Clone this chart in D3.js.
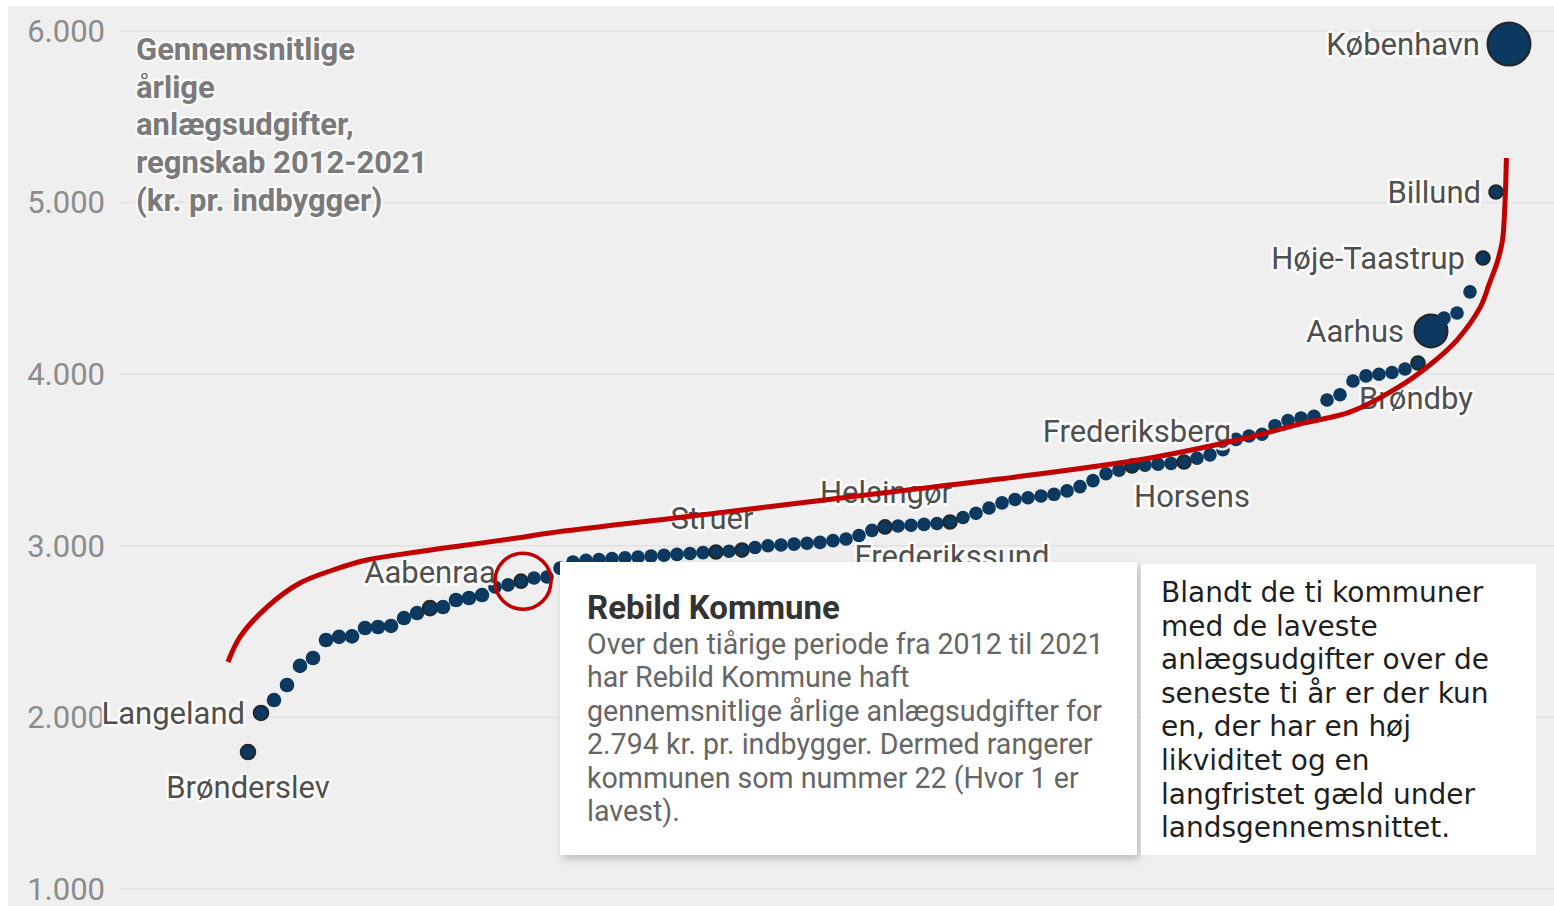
<!DOCTYPE html>
<html>
<head>
<meta charset="utf-8">
<script src="https://cdn.jsdelivr.net/npm/d3@7"></script>
<style>
  body { margin: 0; background: #ffffff; }
  #chart { width: 1554px; height: 906px; }
</style>
</head>
<body>
<div id="chart"></div>
<script>
///////////////
// data      //
///////////////

// gennemsnitlige årlige anlægsudgifter 2012-2021, kr. pr. indbygger, sorteret (rang 1 = lavest)
const udgifter = [
  1798, 2026, 2101, 2189, 2300, 2346, 2451, 2469, 2472, 2521,
  2527, 2533, 2579, 2608, 2637, 2643, 2684, 2696, 2713, 2760,
  2772, 2794, 2812, 2818, 2870, 2905, 2915, 2920, 2925, 2930,
  2935, 2940, 2945, 2950, 2955, 2960, 2964, 2968, 2975, 2990,
  3000, 3005, 3010, 3015, 3020, 3030, 3040, 3060, 3090, 3110,
  3115, 3120, 3125, 3130, 3139, 3165, 3190, 3220, 3250, 3270,
  3280, 3290, 3300, 3320, 3345, 3380, 3420, 3440, 3465, 3470,
  3475, 3480, 3488, 3510, 3530, 3560, 3620, 3640, 3650, 3700,
  3730, 3745, 3755, 3850, 3880, 3960, 3990, 4000, 4010, 4030,
  4065, 4252, 4327, 4357, 4480, 4677, 5062, 5924
];

// navngivne kommuner og deres rang
const labelNames = ["Brønderslev", "Langeland", "Aabenraa", "Struer", "Helsingør", "Frederikssund",
                    "Frederiksberg", "Horsens", "Brøndby", "Aarhus", "Høje-Taastrup", "Billund", "København"];
const labelRanks = [1, 2, 15, 37, 50, 55, 69, 73, 91, 92, 96, 97, 98];
const ringRanks = [1, 2, 15, 22, 37, 39, 50, 55, 69, 73, 91, 92, 96, 97, 98];

const yTicks = [1000, 2000, 3000, 4000, 5000, 6000];

const titleLines = ["Gennemsnitlige", "årlige", "anlægsudgifter,", "regnskab 2012-2021", "(kr. pr. indbygger)"];

const tooltipTitle = "Rebild Kommune";
const tooltipLines = [
  "Over den tiårige periode fra 2012 til 2021",
  "har Rebild Kommune haft",
  "gennemsnitlige årlige anlægsudgifter for",
  "2.794 kr. pr. indbygger. Dermed rangerer",
  "kommunen som nummer 22 (Hvor 1 er",
  "lavest)."
];
const tooltipRank = 22;

const noteLines = [
  "Blandt de ti kommuner",
  "med de laveste",
  "anlægsudgifter over de",
  "seneste ti år er der kun",
  "en, der har en høj",
  "likviditet og en",
  "langfristet gæld under",
  "landsgennemsnittet."
];

// håndtegnet rød streg, i (rang, kr.)
const kurvePunkter = [
  [-0.54, 2323], [0.39, 2469], [2.46, 2643], [5.0, 2783], [7.54, 2859], [10.15, 2917],
  [14.0, 2964], [17.85, 3005], [21.7, 3045], [24.2, 3075], [37.1, 3191], [49.8, 3308],
  [58.8, 3389], [70.4, 3512], [78.1, 3634], [81.9, 3710], [85.8, 3780], [89.4, 3920],
  [91.9, 4054], [94.0, 4199], [95.8, 4392], [96.5, 4531], [97.1, 4654], [97.5, 4782],
  [97.7, 5015], [97.8, 5260]
];

///////////////
// constants //
///////////////

const chartWidth = 1554;
const chartHeight = 906;

const dotColor = "#07375f";
const redColor = "#c10000";

// label placement (anchor, dx, dy) per name
const labelPlacement = {
  "Brønderslev":   ["middle", 0, 35],
  "Langeland":     ["end", -16, 0],
  "Aabenraa":      ["middle", 0, -36],
  "Struer":        ["middle", -4, -34],
  "Helsingør":     ["middle", 1, -35],
  "Frederikssund": ["middle", 2, 34],
  "Frederiksberg": ["middle", 5, -35],
  "Horsens":       ["middle", 8, 34],
  "Brøndby":       ["middle", -2, 35],
  "Aarhus":        ["end", -27, 0],
  "Høje-Taastrup": ["end", -18, 0],
  "Billund":       ["end", -15, 0],
  "København":     ["end", -29, 0]
};

// big dots (radius in px)
const dotRadius = { 92: 16.5, 98: 21.5 };

const locale = d3.formatLocale({ decimal: ",", thousands: ".", grouping: [3], currency: ["", " kr."] });
const fmt = locale.format(",");

var xScale = d3.scaleLinear()
             .domain([1, 98])
             .range([248, 1509]);

var yScale = d3.scaleLinear()
             .domain([1000, 6000])
             .range([889, 31]);

var svg;

////////////////
// draw image //
////////////////

setUpImage();
drawGrid();
drawTitle();
drawDots();
drawLabels();
drawTooltip();
drawNote();
drawAnnotation();

///////////////
// functions //
///////////////

function setUpImage() {
  svg = d3.select("#chart").append("svg")
          .attr("width", chartWidth)
          .attr("height", chartHeight)
          .style("display", "block");

  svg.append("rect")
     .attr("width", "100%")
     .attr("height", "100%")
     .attr("fill", "#ffffff");

  svg.append("rect")
     .attr("x", 8)
     .attr("y", 6)
     .attr("width", chartWidth - 8)
     .attr("height", chartHeight - 6)
     .attr("fill", "#efefef");

  var defs = svg.append("defs");
  var f = defs.append("filter").attr("id", "shadow")
              .attr("x", "-5%").attr("y", "-5%").attr("width", "115%").attr("height", "120%");
  f.append("feDropShadow")
   .attr("dx", 3).attr("dy", 4)
   .attr("stdDeviation", 4)
   .attr("flood-color", "#000")
   .attr("flood-opacity", 0.22);

  var g = defs.append("filter").attr("id", "soft");
  g.append("feGaussianBlur").attr("stdDeviation", 0.7);
}

function drawGrid() {
  var grid = svg.append("g").attr("class", "grid");

  grid.selectAll("line")
      .data(yTicks)
      .enter().append("line")
      .attr("x1", 120)
      .attr("x2", chartWidth)
      .attr("y1", d => yScale(d))
      .attr("y2", d => yScale(d))
      .attr("stroke", "#e1e1e1")
      .attr("stroke-width", 1.5);

  grid.selectAll("text")
      .data(yTicks)
      .enter().append("text")
      .attr("x", 105)
      .attr("y", d => yScale(d))
      .attr("dy", "0.35em")
      .attr("text-anchor", "end")
      .attr("font-family", "Roboto, sans-serif")
      .attr("font-size", 31)
      .attr("fill", "#8c8c8c")
      .text(d => fmt(d));
}

function drawTitle() {
  svg.append("g")
     .selectAll("text")
     .data(titleLines)
     .enter().append("text")
     .attr("x", 136)
     .attr("y", (d, i) => 49 + i * 37.8)
     .attr("dy", "0.35em")
     .attr("font-family", "Roboto, sans-serif")
     .attr("font-weight", "bold")
     .attr("font-size", 31)
     .attr("fill", "#7a7a7a")
     .attr("stroke", "#ffffff")
     .attr("stroke-width", 4)
     .attr("stroke-opacity", 0.8)
     .attr("stroke-linejoin", "round")
     .attr("paint-order", "stroke")
     .text(d => d);
}

function drawDots() {
  var points = udgifter.map((v, i) => ({ rank: i + 1, value: v }));

  svg.append("g")
     .selectAll("circle")
     .data(points)
     .enter().append("circle")
     .attr("cx", d => xScale(d.rank))
     .attr("cy", d => yScale(d.value))
     .attr("r", d => dotRadius[d.rank] || (d.rank < 20 ? 7.3 : 6.8))
     .attr("fill", dotColor)
     .attr("stroke", d => ringRanks.indexOf(d.rank) >= 0 ? "#262626" : "none")
     .attr("stroke-width", 2)
     .attr("filter", "url(#soft)");
}

function drawLabels() {
  var labels = labelNames.map((n, i) => ({ name: n, rank: labelRanks[i], value: udgifter[labelRanks[i] - 1] }));

  svg.append("g")
     .selectAll("text")
     .data(labels)
     .enter().append("text")
     .attr("x", d => xScale(d.rank) + labelPlacement[d.name][1])
     .attr("y", d => yScale(d.value) + labelPlacement[d.name][2])
     .attr("dy", "0.35em")
     .attr("text-anchor", d => labelPlacement[d.name][0])
     .attr("font-family", "Roboto, sans-serif")
     .attr("font-size", 31)
     .attr("fill", "#4f4f4f")
     .attr("stroke", "#ffffff")
     .attr("stroke-width", 5)
     .attr("stroke-opacity", 0.9)
     .attr("stroke-linejoin", "round")
     .attr("paint-order", "stroke")
     .text(d => d.name);
}

function drawTooltip() {
  var tip = svg.append("g").attr("class", "tooltip");

  tip.append("rect")
     .attr("x", 560)
     .attr("y", 562)
     .attr("width", 577)
     .attr("height", 293)
     .attr("fill", "#ffffff")
     .attr("filter", "url(#shadow)");

  tip.append("text")
     .attr("x", 587)
     .attr("y", 619)
     .attr("font-family", "Roboto, sans-serif")
     .attr("font-weight", "bold")
     .attr("font-size", 33)
     .attr("fill", "#333333")
     .text(tooltipTitle);

  tip.append("g")
     .selectAll("text")
     .data(tooltipLines)
     .enter().append("text")
     .attr("x", 587)
     .attr("y", (d, i) => 654 + i * 33.4)
     .attr("font-family", "Roboto, sans-serif")
     .attr("font-size", 28.6)
     .attr("fill", "#666666")
     .text(d => d);
}

function drawNote() {
  var note = svg.append("g").attr("class", "note");

  note.append("rect")
      .attr("x", 1141)
      .attr("y", 564)
      .attr("width", 395)
      .attr("height", 291)
      .attr("fill", "#ffffff");

  note.append("g")
      .selectAll("text")
      .data(noteLines)
      .enter().append("text")
      .attr("x", 1161)
      .attr("y", (d, i) => 602 + i * 33.6)
      .attr("font-family", "'DejaVu Sans', sans-serif")
      .attr("font-size", 28)
      .attr("fill", "#1f1f1f")
      .text(d => d);
}

function drawAnnotation() {
  var lineGenerator = d3.line()
                        .x(d => xScale(d[0]))
                        .y(d => yScale(d[1]))
                        .curve(d3.curveCatmullRom);

  svg.append("path")
     .attr("d", lineGenerator(kurvePunkter))
     .attr("fill", "none")
     .attr("stroke", redColor)
     .attr("stroke-width", 5)
     .attr("stroke-linecap", "butt");

  // ring round the highlighted municipality
  svg.append("circle")
     .attr("cx", xScale(tooltipRank) + 2)
     .attr("cy", yScale(udgifter[tooltipRank - 1]))
     .attr("r", 28)
     .attr("fill", "none")
     .attr("stroke", redColor)
     .attr("stroke-width", 3.5);
}
</script>
</body>
</html>
